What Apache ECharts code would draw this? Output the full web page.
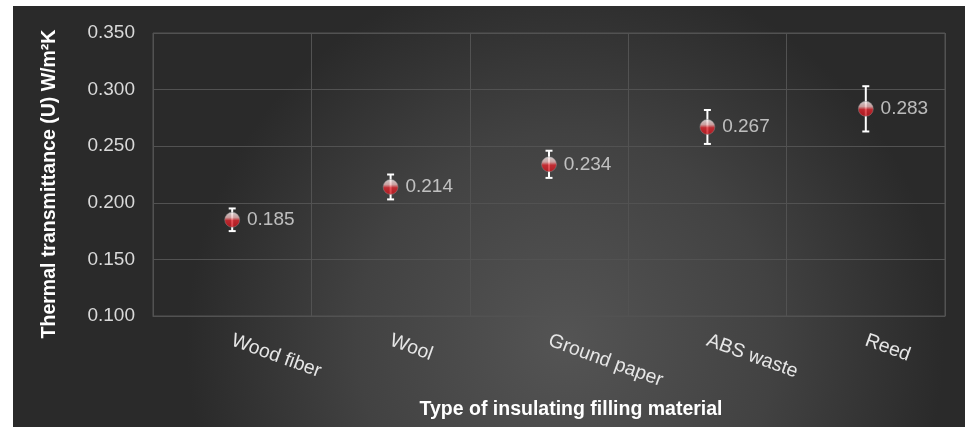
<!DOCTYPE html>
<html><head><meta charset="utf-8">
<script src="https://cdn.jsdelivr.net/npm/echarts@6/dist/echarts.min.js"></script>
<style>
html,body{margin:0;padding:0;background:#fff;width:965px;height:427px;overflow:hidden}
#c{position:absolute;left:13px;top:6px;width:952px;height:421px}
</style></head>
<body><div id="c"></div>
<script>
const categories = ['Wood fiber','Wool','Ground paper','ABS waste','Reed'];
const values = [0.185, 0.214, 0.234, 0.267, 0.283];
const errors = [0.010, 0.011, 0.012, 0.015, 0.020];
const yTicks = {min:0.1, max:0.35, interval:0.05};

const chart = echarts.init(document.getElementById('c'));
const errData = values.map((v,i)=>[i, v - errors[i], v + errors[i]]);
chart.setOption({
  backgroundColor: {type:'radial', x:0.58, y:0.8, r:0.9,
    colorStops:[{offset:0,color:'#545454'},{offset:0.55,color:'#424242'},{offset:1,color:'#2a2a2a'}]},
  grid:{left:140, top:27, right:20, bottom:111, show:true, borderColor:'#525252', borderWidth:1, backgroundColor:'transparent'},
  xAxis:{type:'category', data:categories, boundaryGap:true,
    axisLine:{show:true, lineStyle:{color:'#525252'}}, axisTick:{show:false},
    splitLine:{show:true, lineStyle:{color:'#525252', width:1}},
    axisLabel:{rotate:-20, margin:24, color:'#e6e6e6', fontFamily:'Liberation Sans, Arial', fontSize:19.5, interval:0}},
  yAxis:{type:'value', min:yTicks.min, max:yTicks.max, interval:yTicks.interval,
    axisLine:{show:false}, axisTick:{show:false},
    splitLine:{lineStyle:{color:'#525252', width:1}},
    axisLabel:{margin:18, color:'#d9d9d9', fontFamily:'Liberation Sans, Arial', fontSize:19, formatter:v=>v.toFixed(3)}},
  graphic:[
    {type:'text', x:571-13, y:410-6, style:{text:'Type of insulating filling material', fill:'#ffffff', font:'bold 19.5px "Liberation Sans", Arial', textAlign:'center', textVerticalAlign:'middle'}},
    {type:'text', x:50-13, y:184-6, rotation:Math.PI/2, style:{text:'Thermal transmittance (U) W/m²K', fill:'#ffffff', font:'bold 19.5px "Liberation Sans", Arial', textAlign:'center', textVerticalAlign:'middle'}}
  ],
  series:[
    {type:'scatter', data:values, symbol:'circle', symbolSize:15, z:2,
      itemStyle:{color:{type:'linear', x:0, y:0, x2:0, y2:1, colorStops:[
        {offset:0,color:'#f2f2f2'},{offset:0.35,color:'#eeb8b8'},{offset:0.55,color:'#e0262e'},{offset:1,color:'#c8141c'}]},
        borderColor:'#8a8a8a', borderWidth:0.6},
      label:{show:true, position:'right', distance:7, color:'#e0e0e0', fontFamily:'Liberation Sans, Arial', fontSize:19, formatter:p=>p.value.toFixed(3)}},
    {type:'custom', data:errData, z:1,
      renderItem:function(params, api){
        const x = api.coord([api.value(0), api.value(1)])[0];
        const lo = api.coord([api.value(0), api.value(1)])[1];
        const hi = api.coord([api.value(0), api.value(2)])[1];
        const w = 3.5;
        const st = {stroke:'#ffffff', lineWidth:2};
        return {type:'group', children:[
          {type:'line', shape:{x1:x, y1:lo, x2:x, y2:hi}, style:st},
          {type:'line', shape:{x1:x-w, y1:lo, x2:x+w, y2:lo}, style:st},
          {type:'line', shape:{x1:x-w, y1:hi, x2:x+w, y2:hi}, style:st}
        ]};
      }}
  ]
});
</script></body></html>
